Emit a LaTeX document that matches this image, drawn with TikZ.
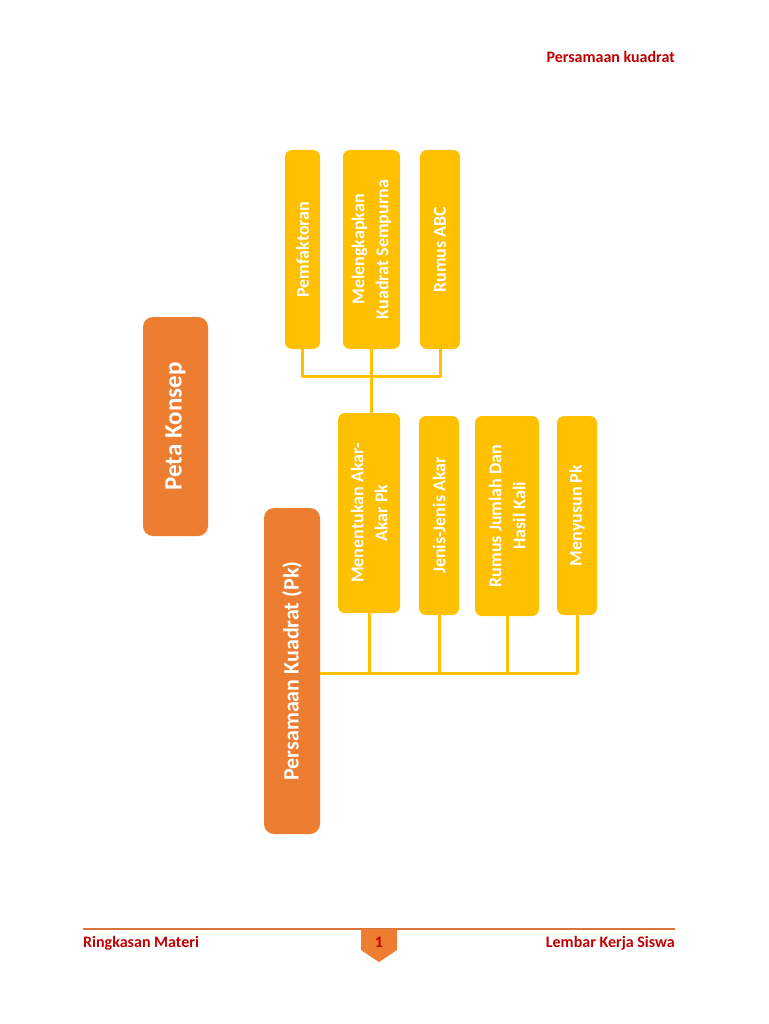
\documentclass[tikz,border=0pt]{standalone}
\usepackage{fontspec}
\setmainfont{Carlito}
\usepackage{tikz}
\usetikzlibrary{shapes}
\definecolor{pkorange}{HTML}{ED7D31}
\definecolor{pkyellow}{HTML}{FFC000}
\definecolor{pkred}{HTML}{C00000}
\definecolor{pkrule}{HTML}{D9753A}
\tikzset{
  orangebox/.style={draw=none,fill=pkorange,rounded corners=10pt,rotate=90,
    text=white,font=\bfseries,inner sep=0pt},
  yellowbox/.style={draw=none,fill=pkyellow,rounded corners=7pt,rotate=90,
    text=white,font=\fontsize{18}{24}\selectfont\bfseries,align=center,inner sep=0pt},
  link/.style={draw=pkyellow,line width=3pt},
  pagetext/.style={text=pkred,font=\fontsize{16}{19}\selectfont\bfseries,inner sep=0pt},
}
\begin{document}
\begin{tikzpicture}[x=1pt,y=-1pt,line join=bevel]
%%
\begin{scope}
  \fill[white] (0,0) rectangle (768,1024);
\end{scope}
\useasboundingbox (0,0) rectangle (768,1024);
%% header
  \node (head) at (675,63) [pagetext,anchor=base east] {Persamaan kuadrat};
%% title boxes
  \node (peta) at (175.5,426.5) [orangebox,minimum width=219pt,minimum height=65pt,
    font=\fontsize{25}{30}\selectfont\bfseries] {Peta Konsep};
  \node (pk) at (292,671) [orangebox,minimum width=326pt,minimum height=56pt,
    font=\fontsize{22}{27}\selectfont\bfseries] {Persamaan Kuadrat (Pk)};
%% top row
  \node (pem) at (302.5,249.5) [yellowbox,minimum width=199pt,minimum height=35pt] {Pemfaktoran};
  \node (mel) at (371.5,249.5) [yellowbox,minimum width=199pt,minimum height=57pt] {Melengkapkan\\Kuadrat Sempurna};
  \node (abc) at (440,249.5) [yellowbox,minimum width=199pt,minimum height=40pt] {Rumus ABC};
%% bottom row
  \node (men) at (369,513) [yellowbox,minimum width=200pt,minimum height=62pt] {Menentukan Akar-\\Akar Pk};
  \node (jen) at (439,515.5) [yellowbox,minimum width=199pt,minimum height=40pt] {Jenis-Jenis Akar};
  \node (rjh) at (507,516) [yellowbox,minimum width=200pt,minimum height=64pt] {Rumus Jumlah Dan\\Hasil Kali};
  \node (nyu) at (577,515.5) [yellowbox,minimum width=199pt,minimum height=40pt] {Menyusun Pk};
%% connectors
  \coordinate (topbus) at (0,376);
  \coordinate (botbus) at (0,673);
  \draw [link] (pem.west) |- (topbus -| abc.west) -- (abc.west);
  \draw [link] (mel.west) -- (mel.west |- men.east);
  \draw [link] (pk.south |- botbus) -| (nyu.west);
  \draw [link] (men.west) -- (men.west |- botbus);
  \draw [link] (jen.west) -- (jen.west |- botbus);
  \draw [link] (rjh.west) -- (rjh.west |- botbus);
%% footer
  \coordinate (ruleL) at (83,929);
  \coordinate (ruleR) at (675,929);
  \draw [pkrule,line width=2pt] (ruleL) -- (ruleR);
  \fill [pkorange] (361,929) -- (397,929) -- (397,950) -- (379,962) -- (361,950) -- cycle;
  \node (pnum) at (379,947) [pagetext,anchor=base] {1};
  \node (foot1) at (83,947) [pagetext,anchor=base west] {Ringkasan Materi};
  \node (foot2) at (675,947) [pagetext,anchor=base east] {Lembar Kerja Siswa};
%
\end{tikzpicture}
\end{document}
